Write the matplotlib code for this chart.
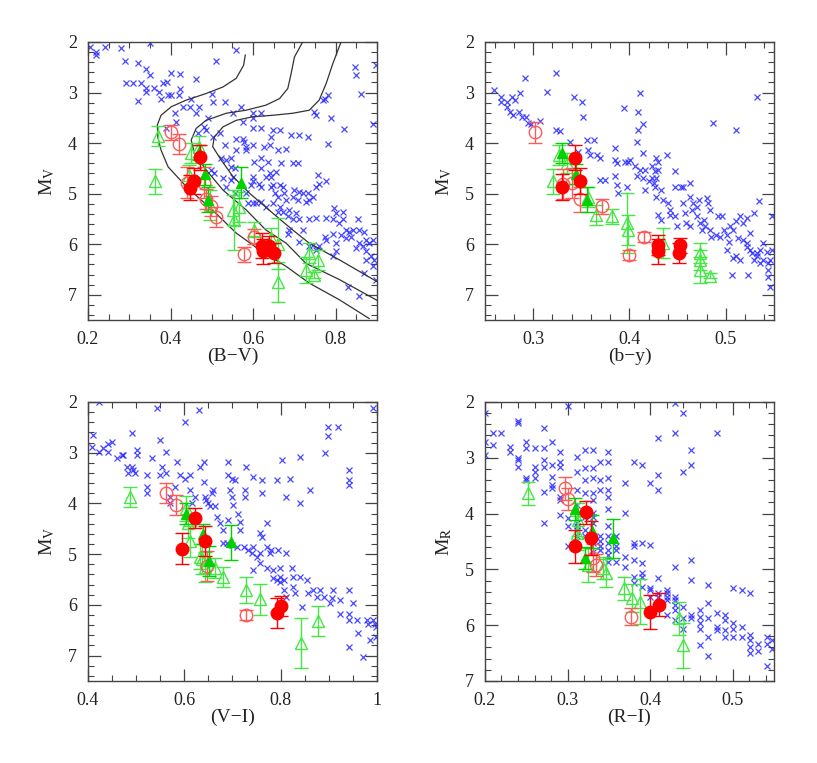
import numpy as np
import matplotlib
matplotlib.use("Agg")
import matplotlib.pyplot as plt
from matplotlib.ticker import MultipleLocator

plt.rcParams['font.family'] = ['Liberation Serif', 'DejaVu Serif']
plt.rcParams['mathtext.fontset'] = 'stix'

# ---------------- Panel 1: (B-V) vs M_V ----------------
bv_field = [(0.204,2.10),(0.219,2.20),(0.220,2.26),(0.240,2.10),(0.281,2.12),(0.349,2.03),(0.559,2.16),(0.510,2.38),(0.290,2.38),(0.321,2.41),(0.341,2.53),(0.351,2.66),(0.400,2.61),(0.422,2.64),(0.291,2.82),(0.309,2.82),(0.329,2.81),(0.341,2.92),(0.341,2.99),(0.361,2.92),(0.373,2.99),(0.381,2.82),(0.391,2.79),(0.422,2.94),(0.462,2.74),(0.321,3.16),(0.377,3.12),(0.394,3.05),(0.402,3.05),(0.420,3.05),(0.450,3.12),(0.430,3.28),(0.410,3.41),(0.446,3.28),(0.462,3.41),(0.470,3.28),(0.501,3.02),(0.502,3.18),(0.531,3.18),(0.571,3.28),(0.551,3.41),(0.599,3.41),(0.619,3.41),(0.575,3.58),(0.599,3.51),(0.599,3.71),(0.619,3.71),(0.648,3.74),(0.664,3.74),(0.692,3.84),(0.712,3.84),(0.732,3.88),(0.752,3.45),(0.789,3.51),(0.748,3.38),(0.781,3.05),(0.773,3.12),(0.769,3.15),(0.848,2.49),(0.849,2.66),(0.861,3.02),(0.898,2.46),(0.890,3.63),(0.821,3.73),(0.781,4.01),(0.414,3.58),(0.390,3.71),(0.466,3.81),(0.486,3.74),(0.490,3.51),(0.482,3.68),(0.502,3.88),(0.519,3.81),(0.531,4.04),(0.559,3.91),(0.575,3.91),(0.579,3.97),(0.559,4.14),(0.583,4.07),(0.583,4.14),(0.599,4.04),(0.603,4.37),(0.619,4.30),(0.627,4.07),(0.635,4.37),(0.640,4.04),(0.644,3.88),(0.660,4.14),(0.680,4.11),(0.696,4.40),(0.708,4.40),(0.668,4.40),(0.656,4.57),(0.640,4.60),(0.644,4.86),(0.648,4.83),(0.664,4.83),(0.672,4.86),(0.652,4.99),(0.660,5.06),(0.676,4.99),(0.680,5.12),(0.696,5.06),(0.700,4.93),(0.712,4.96),(0.720,4.99),(0.732,4.99),(0.736,5.12),(0.728,5.16),(0.744,5.06),(0.752,4.86),(0.756,4.63),(0.777,4.76),(0.760,4.80),(0.708,5.12),(0.599,4.67),(0.599,4.76),(0.595,4.83),(0.615,4.80),(0.619,4.86),(0.631,4.67),(0.619,4.50),(0.644,4.67),(0.547,4.30),(0.535,4.33),(0.523,4.30),(0.547,4.47),(0.555,4.50),(0.551,4.67),(0.498,4.53),(0.506,4.60),(0.527,4.70),(0.547,4.73),(0.535,4.86),(0.555,4.99),(0.583,4.99),(0.587,5.19),(0.599,5.19),(0.607,5.19),(0.619,5.16),(0.631,5.26),(0.648,5.19),(0.664,5.26),(0.660,5.36),(0.672,5.36),(0.688,5.32),(0.684,5.45),(0.704,5.39),(0.712,5.51),(0.736,5.51),(0.752,5.49),(0.777,5.49),(0.797,5.29),(0.801,5.39),(0.817,5.36),(0.793,5.51),(0.817,5.51),(0.809,5.59),(0.825,5.72),(0.833,5.75),(0.841,5.72),(0.853,5.51),(0.857,5.72),(0.869,5.75),(0.873,5.91),(0.890,5.91),(0.881,5.98),(0.865,6.04),(0.857,5.98),(0.849,6.08),(0.837,5.85),(0.825,5.88),(0.813,5.82),(0.801,5.98),(0.793,5.79),(0.777,5.91),(0.773,5.85),(0.760,6.04),(0.752,6.11),(0.744,6.01),(0.736,6.04),(0.801,6.14),(0.793,6.24),(0.873,6.14),(0.885,6.24),(0.894,6.31),(0.873,6.31),(0.869,6.57),(0.890,6.44),(0.898,6.70),(0.857,7.03),(0.829,6.84),(0.684,5.79),(0.712,5.95),(0.720,5.72),(0.688,5.72),(0.696,5.51)]
bv_red_filled = [(0.471,4.28,0.25),(0.458,4.75,0.25),(0.448,4.88,0.25),(0.622,6.03,0.25),(0.625,6.14,0.25),(0.638,6.03,0.2),(0.650,6.18,0.2)]
bv_red_open = [(0.400,3.79,0.15),(0.421,4.02,0.2),(0.441,4.78,0.3),(0.481,4.78,0.3),(0.487,5.11,0.2),(0.499,5.24,0.2),(0.511,5.47,0.2),(0.602,5.85,0.15),(0.578,6.20,0.15)]
bv_green_filled = [(0.469,4.18,0.15),(0.483,4.62,0.2),(0.491,5.12,0.25),(0.570,4.78,0.3)]
bv_green_open = [(0.370,3.86,0.2),(0.362,4.76,0.25),(0.450,4.20,0.2),(0.470,4.07,0.2),(0.445,4.63,0.2),(0.495,5.22,0.3),(0.551,5.32,0.3),(0.553,5.52,0.6),(0.567,5.27,0.3),(0.603,5.71,0.15),(0.644,5.88,0.2),(0.660,5.99,0.5),(0.661,6.75,0.4),(0.728,6.51,0.25),(0.736,6.18,0.2),(0.756,6.31,0.2),(0.748,6.61,0.05)]
iso1_bv = [0.581,0.577,0.559,0.527,0.486,0.438,0.402,0.377,0.368,0.369,0.377,0.394,0.438,0.510,0.559,0.615,0.680,0.736,0.809,0.881]
iso1_mv = [2.26,2.46,2.72,2.89,3.02,3.15,3.28,3.45,3.64,3.88,4.14,4.47,4.86,5.39,5.78,6.11,6.44,6.77,7.10,7.47]
iso2_bv = [0.720,0.700,0.692,0.684,0.664,0.631,0.583,0.535,0.486,0.462,0.450,0.458,0.486,0.527,0.583,0.631,0.680,0.728,0.809,0.900]
iso2_mv = [2.00,2.30,2.63,2.92,3.12,3.25,3.35,3.41,3.55,3.71,3.94,4.20,4.53,4.93,5.32,5.72,5.98,6.38,6.70,7.11]
iso3_bv = [0.813,0.793,0.777,0.760,0.736,0.696,0.648,0.599,0.559,0.527,0.506,0.502,0.523,0.551,0.591,0.648,0.696,0.736,0.809,0.900]
iso3_mv = [2.00,2.43,2.82,3.15,3.35,3.41,3.45,3.48,3.55,3.68,3.88,4.07,4.34,4.66,4.99,5.39,5.72,5.98,6.31,6.74]

# ---------------- Panel 2: (b-y) vs M_V ----------------
by_field = [(0.259,2.95),(0.267,3.08),(0.267,3.18),(0.273,3.18),(0.273,3.28),(0.278,3.08),(0.281,3.15),(0.286,3.01),(0.276,3.38),(0.279,3.44),(0.285,3.38),(0.288,3.48),(0.293,3.49),(0.295,3.61),(0.298,3.62),(0.307,3.57),(0.292,2.72),(0.314,2.98),(0.324,2.62),(0.342,3.08),(0.351,3.18),(0.352,3.49),(0.324,3.74),(0.328,3.77),(0.338,3.97),(0.347,4.17),(0.356,3.94),(0.363,3.94),(0.357,4.13),(0.359,4.23),(0.366,4.23),(0.369,4.30),(0.375,4.73),(0.369,4.73),(0.385,4.10),(0.385,4.33),(0.387,4.40),(0.385,4.66),(0.387,4.83),(0.388,4.99),(0.394,3.31),(0.395,4.37),(0.399,4.37),(0.401,4.33),(0.406,4.46),(0.408,4.66),(0.411,3.01),(0.409,3.38),(0.409,3.74),(0.408,3.97),(0.414,3.62),(0.414,4.20),(0.397,4.86),(0.411,4.53),(0.416,4.53),(0.423,4.46),(0.427,4.56),(0.428,4.30),(0.430,4.37),(0.430,4.53),(0.439,4.23),(0.414,4.69),(0.416,4.93),(0.420,4.76),(0.425,4.79),(0.423,4.69),(0.428,4.69),(0.427,4.86),(0.433,4.93),(0.428,5.06),(0.435,5.12),(0.440,5.19),(0.447,4.56),(0.447,4.86),(0.453,4.86),(0.456,4.86),(0.442,5.32),(0.447,5.45),(0.449,5.65),(0.442,5.42),(0.430,5.42),(0.433,5.52),(0.456,5.19),(0.458,5.39),(0.463,5.06),(0.465,5.32),(0.466,5.19),(0.470,5.26),(0.459,5.58),(0.463,5.65),(0.470,5.45),(0.473,5.58),(0.475,5.72),(0.477,5.52),(0.478,5.65),(0.484,5.72),(0.485,5.85),(0.480,5.09),(0.482,5.19),(0.484,5.32),(0.487,3.61),(0.492,5.45),(0.496,5.45),(0.490,5.82),(0.494,5.85),(0.498,5.72),(0.501,5.82),(0.504,5.65),(0.503,5.95),(0.508,5.72),(0.511,5.55),(0.515,5.45),(0.518,5.58),(0.522,5.48),(0.525,5.78),(0.529,5.39),(0.513,5.88),(0.518,5.91),(0.522,5.98),(0.522,6.05),(0.525,6.11),(0.527,6.18),(0.529,6.31),(0.532,6.24),(0.536,6.11),(0.534,5.15),(0.532,6.18),(0.536,6.37),(0.539,5.98),(0.539,6.31),(0.543,6.15),(0.544,6.37),(0.544,6.51),(0.546,6.31),(0.548,6.11),(0.544,6.64),(0.546,6.84),(0.548,5.45),(0.501,6.11),(0.508,6.28),(0.511,6.24),(0.515,6.31),(0.506,6.60),(0.523,6.60),(0.532,3.08),(0.511,3.74),(0.463,4.79),(0.472,5.12)]
by_red_filled = [(0.343,4.29,0.25),(0.349,4.75,0.25),(0.330,4.87,0.25),(0.430,6.02,0.2),(0.430,6.14,0.25),(0.452,6.02,0.15),(0.451,6.18,0.2)]
by_red_open = [(0.302,3.79,0.2),(0.331,4.81,0.3),(0.340,4.79,0.3),(0.349,5.11,0.25),(0.372,5.25,0.15),(0.415,5.85,0.1),(0.400,6.21,0.1)]
by_green_filled = [(0.330,4.20,0.2),(0.344,4.61,0.2),(0.356,5.12,0.25)]
by_green_open = [(0.327,4.23,0.2),(0.335,4.40,0.2),(0.321,4.76,0.25),(0.357,5.06,0.2),(0.365,5.42,0.2),(0.382,5.45,0.15),(0.397,5.58,0.6),(0.399,5.72,0.3),(0.435,5.98,0.3),(0.473,6.18,0.2),(0.473,6.31,0.2),(0.473,6.51,0.25),(0.484,6.62,0.05)]

# ---------------- Panel 3: (V-I) vs M_V ----------------
vi_field = [(0.422,2.01),(0.411,2.65),(0.408,2.88),(0.422,2.98),(0.432,2.91),(0.442,2.82),(0.449,2.78),(0.442,2.98),(0.460,3.11),(0.470,3.04),(0.473,3.04),(0.491,2.62),(0.491,3.28),(0.494,3.34),(0.480,3.28),(0.484,3.41),(0.498,3.41),(0.501,2.95),(0.501,3.04),(0.522,3.44),(0.522,3.67),(0.522,3.80),(0.532,3.11),(0.543,2.12),(0.550,2.75),(0.553,3.28),(0.550,3.44),(0.562,2.98),(0.563,3.41),(0.570,3.87),(0.570,4.00),(0.584,3.18),(0.581,3.67),(0.591,3.44),(0.601,2.39),(0.601,3.51),(0.612,3.44),(0.612,3.74),(0.615,4.00),(0.622,3.87),(0.631,2.16),(0.633,3.28),(0.640,3.18),(0.640,3.57),(0.643,3.87),(0.646,3.93),(0.650,4.00),(0.653,4.06),(0.657,3.80),(0.660,3.74),(0.664,4.06),(0.667,4.26),(0.674,4.39),(0.681,4.52),(0.691,3.18),(0.691,3.44),(0.698,3.51),(0.695,3.74),(0.698,3.87),(0.702,4.03),(0.705,3.54),(0.712,4.20),(0.716,4.36),(0.691,4.33),(0.681,4.79),(0.688,4.79),(0.698,4.82),(0.709,4.85),(0.716,4.52),(0.723,4.85),(0.729,3.28),(0.726,3.74),(0.726,3.87),(0.733,4.92),(0.740,4.98),(0.743,3.47),(0.750,5.05),(0.761,3.54),(0.761,3.80),(0.757,4.59),(0.761,4.66),(0.771,4.39),(0.771,4.85),(0.778,4.98),(0.781,4.92),(0.792,3.54),(0.795,4.92),(0.802,3.14),(0.799,5.28),(0.799,5.45),(0.806,5.51),(0.812,3.87),(0.812,4.98),(0.819,3.51),(0.823,5.28),(0.826,5.45),(0.830,5.77),(0.840,3.08),(0.840,4.00),(0.840,5.45),(0.844,6.04),(0.854,5.51),(0.857,5.77),(0.861,3.74),(0.868,5.71),(0.875,5.84),(0.882,5.71),(0.889,5.84),(0.892,3.01),(0.899,2.49),(0.899,2.68),(0.902,5.97),(0.906,5.87),(0.909,5.71),(0.920,2.49),(0.923,5.91),(0.923,6.17),(0.941,3.34),(0.941,3.54),(0.941,3.64),(0.941,5.71),(0.941,6.17),(0.941,6.30),(0.941,6.83),(0.951,5.97),(0.958,6.30),(0.961,6.56),(0.972,7.02),(0.979,6.30),(0.982,6.37),(0.985,6.69),(0.992,2.12),(0.992,6.30),(0.999,6.43),(0.999,6.63),(0.996,6.37),(0.771,5.28),(0.785,5.48),(0.792,5.51),(0.799,5.54),(0.806,5.71),(0.812,5.84),(0.826,5.64),(0.757,5.18),(0.743,5.31),(0.785,5.31),(0.757,4.98),(0.743,4.85)]
vi_red_filled = [(0.622,4.29,0.2),(0.596,4.89,0.3),(0.643,4.74,0.3),(0.792,6.16,0.3),(0.800,6.02,0.2)]
vi_red_open = [(0.561,3.79,0.2),(0.583,4.03,0.2),(0.648,5.23,0.3),(0.729,6.20,0.1)]
vi_green_filled = [(0.603,4.20,0.2),(0.638,4.60,0.2),(0.696,4.77,0.35),(0.651,5.14,0.3)]
vi_green_open = [(0.487,3.87,0.2),(0.603,4.10,0.25),(0.608,4.39,0.3),(0.612,4.75,0.3),(0.633,5.05,0.25),(0.643,5.25,0.3),(0.664,5.28,0.2),(0.681,5.45,0.2),(0.728,5.71,0.25),(0.757,5.89,0.3),(0.842,6.75,0.5),(0.878,6.32,0.3),(0.636,5.10,0.3)]

# ---------------- Panel 4: (R-I) vs M_R ----------------
ri_field = [(0.200,2.20),(0.200,2.71),(0.200,2.95),(0.210,2.56),(0.210,2.77),(0.220,2.56),(0.230,2.80),(0.230,2.89),(0.240,2.35),(0.240,2.38),(0.240,3.01),(0.240,3.04),(0.240,3.16),(0.250,2.71),(0.250,2.83),(0.250,3.37),(0.250,3.40),(0.261,3.25),(0.261,3.37),(0.261,3.16),(0.261,2.83),(0.271,2.47),(0.271,2.83),(0.271,3.04),(0.271,3.16),(0.271,3.61),(0.271,4.17),(0.281,2.71),(0.281,3.34),(0.281,3.49),(0.281,3.55),(0.281,3.13),(0.291,2.89),(0.291,3.07),(0.291,3.16),(0.291,3.76),(0.291,4.03),(0.291,3.70),(0.301,2.08),(0.301,4.08),(0.301,4.23),(0.301,4.59),(0.311,2.98),(0.311,3.25),(0.311,3.58),(0.311,3.85),(0.311,4.17),(0.311,4.23),(0.311,4.29),(0.311,4.41),(0.321,2.86),(0.321,3.19),(0.321,3.40),(0.321,3.64),(0.321,4.06),(0.321,4.29),(0.321,4.41),(0.331,2.86),(0.331,3.19),(0.331,3.37),(0.331,3.64),(0.331,3.76),(0.331,3.99),(0.331,4.06),(0.331,4.17),(0.331,4.41),(0.331,4.53),(0.331,4.68),(0.339,3.07),(0.339,3.40),(0.339,3.58),(0.339,4.50),(0.339,4.59),(0.349,2.89),(0.349,3.07),(0.349,3.37),(0.349,3.58),(0.349,3.70),(0.349,3.91),(0.349,4.23),(0.349,4.41),(0.349,4.53),(0.349,4.65),(0.349,4.74),(0.349,4.86),(0.339,4.41),(0.339,4.65),(0.359,4.41),(0.359,4.59),(0.359,4.65),(0.359,4.86),(0.370,3.46),(0.370,3.99),(0.370,4.77),(0.370,4.95),(0.380,3.07),(0.380,4.53),(0.380,4.59),(0.380,4.83),(0.380,5.13),(0.380,5.25),(0.390,3.13),(0.390,4.53),(0.390,4.89),(0.390,5.07),(0.390,5.13),(0.390,5.31),(0.400,3.46),(0.400,4.56),(0.400,5.34),(0.400,5.37),(0.400,5.49),(0.410,2.65),(0.410,3.31),(0.410,3.58),(0.410,5.16),(0.410,5.43),(0.410,5.49),(0.410,5.67),(0.420,5.37),(0.420,5.43),(0.420,5.49),(0.420,5.55),(0.420,5.82),(0.430,2.02),(0.430,2.56),(0.430,4.95),(0.430,5.49),(0.430,5.55),(0.430,5.64),(0.430,5.73),(0.430,5.91),(0.440,2.20),(0.440,3.25),(0.440,5.67),(0.440,5.88),(0.440,6.06),(0.450,2.86),(0.450,3.13),(0.450,4.83),(0.450,5.19),(0.450,5.82),(0.450,5.88),(0.460,5.73),(0.460,5.85),(0.460,5.97),(0.460,6.06),(0.460,6.36),(0.470,5.28),(0.470,5.61),(0.470,5.88),(0.470,6.21),(0.470,6.56),(0.481,2.56),(0.481,5.79),(0.481,6.03),(0.481,6.09),(0.491,5.82),(0.491,5.91),(0.491,6.09),(0.491,6.21),(0.501,5.34),(0.501,5.97),(0.501,6.06),(0.501,6.21),(0.511,5.37),(0.511,6.03),(0.511,6.21),(0.521,5.43),(0.521,6.18),(0.521,6.27),(0.521,6.39),(0.521,6.50),(0.531,6.33),(0.531,6.47),(0.541,6.21),(0.541,6.74),(0.541,6.33),(0.548,6.27),(0.548,6.42)]
ri_red_filled = [(0.322,3.98,0.2),(0.329,4.44,0.3),(0.309,4.59,0.3),(0.400,5.76,0.3),(0.411,5.63,0.2)]
ri_red_open = [(0.297,3.55,0.2),(0.300,3.74,0.2),(0.331,4.80,0.25),(0.335,4.92,0.2),(0.377,5.85,0.15)]
ri_green_filled = [(0.309,3.92,0.2),(0.330,4.32,0.3),(0.355,4.44,0.35),(0.321,4.80,0.2)]
ri_green_open = [(0.252,3.64,0.2),(0.313,4.11,0.3),(0.311,4.35,0.3),(0.325,4.92,0.3),(0.343,4.98,0.2),(0.347,5.07,0.25),(0.368,5.34,0.2),(0.378,5.52,0.25),(0.388,5.58,0.4),(0.435,5.88,0.3),(0.440,6.36,0.4)]

x_labels = ['(B\u2212V)', '(b\u2212y)', '(V\u2212I)', '(R\u2212I)']
y_labels = [r'M$_{\mathrm{V}}$', r'M$_{\mathrm{V}}$', r'M$_{\mathrm{V}}$', r'M$_{\mathrm{R}}$']
x_limits = [(0.2, 0.9), (0.25, 0.55), (0.4, 1.0), (0.2, 0.55)]
y_limits = [(7.5, 2), (7.5, 2), (7.5, 2), (7, 2)]
x_major = [0.2, 0.1, 0.2, 0.1]
x_minor = [0.05, 0.02, 0.05, 0.02]

BLUE = '#2828ff'
RED = '#ff0000'
RED_OPEN = '#ff5a5a'
GREEN_OPEN = '#46e646'
GREEN_FILLED = '#00d200'

fig = plt.figure(figsize=(8.17, 7.63), dpi=100)
positions = [[0.1077, 0.5806, 0.3537, 0.3644], [0.5936, 0.5806, 0.3537, 0.3644],
             [0.1077, 0.1075, 0.3537, 0.3657], [0.5936, 0.1075, 0.3537, 0.3657]]

panels = [
    (bv_field, bv_red_filled, bv_red_open, bv_green_filled, bv_green_open),
    (by_field, by_red_filled, by_red_open, by_green_filled, by_green_open),
    (vi_field, vi_red_filled, vi_red_open, vi_green_filled, vi_green_open),
    (ri_field, ri_red_filled, ri_red_open, ri_green_filled, ri_green_open),
]


def eb(ax, pts, color, marker, mfc, ms, z):
    a = np.array(pts)
    ax.errorbar(a[:, 0], a[:, 1], yerr=a[:, 2], fmt='none', ecolor=color,
                elinewidth=1.0, capsize=5, capthick=1.0, zorder=z)
    ax.plot(a[:, 0], a[:, 1], linestyle='none', marker=marker, ms=ms,
            mfc=mfc, mec=color, mew=1.0, zorder=z + 0.5)


for i, (field, rf, ro, gf, go) in enumerate(panels):
    ax = fig.add_axes(positions[i])
    f = np.array(field)
    ax.plot(f[:, 0], f[:, 1], linestyle='none', marker='x', ms=4.2, mew=0.9,
            color=BLUE, alpha=0.85, zorder=2)
    if i == 0:
        for xs, ys in [(iso1_bv, iso1_mv), (iso2_bv, iso2_mv), (iso3_bv, iso3_mv)]:
            ax.plot(xs, ys, color='#333333', lw=0.9, zorder=3)
    eb(ax, go, GREEN_OPEN, '^', 'none', 8.5, 4)
    eb(ax, ro, RED_OPEN, 'o', 'none', 9, 5)
    eb(ax, gf, GREEN_FILLED, '^', GREEN_FILLED, 7.5, 6)
    eb(ax, rf, RED, 'o', RED, 9, 7)

    ax.set_xlim(*x_limits[i])
    ax.set_ylim(*y_limits[i])
    ax.xaxis.set_major_locator(MultipleLocator(x_major[i]))
    ax.xaxis.set_minor_locator(MultipleLocator(x_minor[i]))
    ax.yaxis.set_major_locator(MultipleLocator(1))
    ax.yaxis.set_minor_locator(MultipleLocator(0.2))
    ax.tick_params(which='both', direction='in', top=True, right=True,
                   colors='#444444', labelcolor='#222222', labelsize=13)
    ax.tick_params(which='major', length=9, width=0.9, pad=8)
    ax.tick_params(which='minor', length=4.5, width=0.8)
    for s in ax.spines.values():
        s.set_color('#444444')
        s.set_linewidth(1.0)
    if i == 2:
        ax.set_xticks([0.4, 0.6, 0.8, 1.0])
        ax.set_xticklabels(['0.4', '0.6', '0.8', '1'])
        ax.set_xlim(*x_limits[i])
    ax.set_xlabel(x_labels[i], fontsize=14, color='#222222')
    ax.xaxis.label.set_va('center')
    ax.xaxis.set_label_coords(0.5, -0.13)
    ax.set_ylabel(y_labels[i], fontsize=14, color='#222222')
    ax.yaxis.label.set_va('center')
    ax.yaxis.set_label_coords(-0.14, 0.5)

fig.savefig('out.png', dpi=100)
